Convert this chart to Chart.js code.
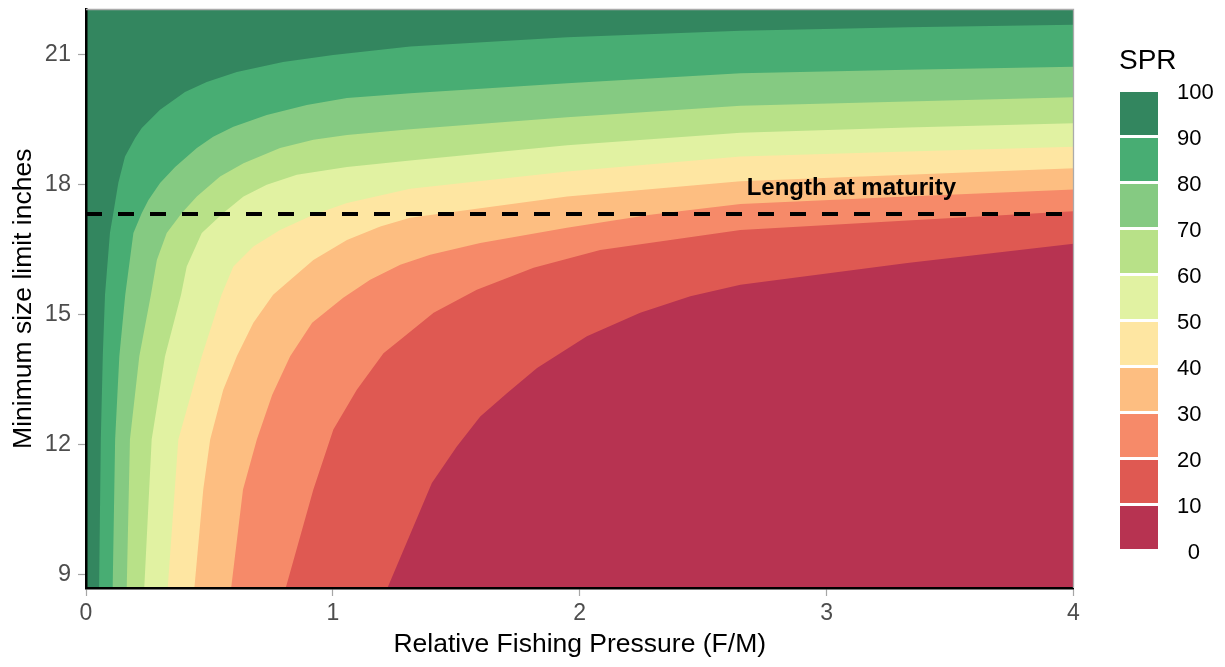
<!DOCTYPE html>
<html><head><meta charset="utf-8">
<script src="https://cdn.jsdelivr.net/npm/chart.js@4.4.1/dist/chart.umd.min.js"></script>
<style>
html,body{margin:0;padding:0;background:#fff;}
#wrap{position:relative;width:1225px;height:667px;font-family:"Liberation Sans",Arial,Helvetica,sans-serif;overflow:hidden;}
canvas{position:absolute;left:0;top:0;}
.lt{position:absolute;white-space:nowrap;line-height:1;color:#000;}
.box{position:absolute;}
</style></head><body>
<div id="wrap"><canvas id="c" width="1225" height="667"></canvas><div id="legend"></div></div>
<script>
// ---------- data ----------
const X_TICKS = [0, 1, 2, 3, 4];
const Y_TICKS = [9, 12, 15, 18, 21];
const X_MIN = 0, X_MAX = 4;
const Y_MIN = 8.7, Y_MAX = 22.03;
const SPR_BREAKS = [100, 90, 80, 70, 60, 50, 40, 30, 20, 10, 0];
const MATURITY = 17.32;
const LABEL_TEXT = 'Length at maturity';
const LABEL_POS = [3.1, 17.76];
const X_TITLE = 'Relative Fishing Pressure (F/M)';
const Y_TITLE = 'Minimum size limit inches';

// contour boundaries: F/M values and size limit values (bottom edge first)
const L10_F = [1.221, 1.401, 1.502, 1.597, 1.705, 1.827, 2.029, 2.245, 2.448, 2.651, 3.327, 4.0];
const L10_Y = [8.70, 11.12, 11.96, 12.65, 13.19, 13.77, 14.50, 15.04, 15.42, 15.69, 16.19, 16.63];
const L20_F = [0.809, 0.921, 1.002, 1.097, 1.205, 1.273, 1.408, 1.583, 1.813, 2.083, 2.651, 3.327, 4.0];
const L20_Y = [8.70, 10.97, 12.35, 13.27, 14.11, 14.42, 15.04, 15.57, 16.08, 16.49, 16.95, 17.17, 17.38];
const L30_F = [0.588, 0.636, 0.692, 0.754, 0.827, 0.916, 1.042, 1.151, 1.273, 1.394, 1.597, 1.948, 2.286, 2.651, 3.327, 4.0];
const L30_Y = [8.70, 10.97, 12.12, 13.15, 14.04, 14.81, 15.39, 15.80, 16.15, 16.38, 16.65, 17.00, 17.30, 17.55, 17.72, 17.88];
const L40_F = [0.439, 0.475, 0.503, 0.556, 0.611, 0.678, 0.758, 0.813, 0.921, 1.057, 1.192, 1.313, 1.949, 2.651, 3.327, 4.0];
const L40_Y = [8.70, 10.97, 12.12, 13.27, 14.04, 14.81, 15.46, 15.73, 16.26, 16.72, 17.03, 17.23, 17.72, 18.07, 18.22, 18.37];
const L50_F = [0.331, 0.374, 0.469, 0.549, 0.597, 0.678, 0.786, 0.921, 1.057, 1.313, 1.949, 2.651, 3.327, 4.0];
const L50_Y = [8.70, 12.12, 14.04, 15.46, 16.11, 16.57, 16.95, 17.30, 17.57, 17.90, 18.30, 18.64, 18.76, 18.87];
const L60_F = [0.236, 0.266, 0.320, 0.385, 0.408, 0.469, 0.556, 0.638, 0.732, 0.854, 1.057, 1.313, 1.949, 2.651, 3.327, 4.0];
const L60_Y = [8.70, 12.12, 14.04, 15.46, 16.11, 16.88, 17.34, 17.72, 17.99, 18.22, 18.40, 18.55, 18.90, 19.19, 19.31, 19.41];
const L70_F = [0.165, 0.178, 0.216, 0.263, 0.287, 0.327, 0.388, 0.449, 0.543, 0.638, 0.786, 0.921, 1.057, 1.313, 1.949, 2.651, 3.327, 4.0];
const L70_Y = [8.70, 12.12, 14.04, 15.46, 16.26, 16.88, 17.34, 17.72, 18.18, 18.49, 18.84, 19.03, 19.14, 19.27, 19.55, 19.81, 19.91, 20.01];
const L80_F = [0.108, 0.118, 0.135, 0.159, 0.192, 0.226, 0.253, 0.300, 0.361, 0.449, 0.515, 0.597, 0.732, 0.894, 1.057, 1.313, 1.949, 2.651, 3.327, 4.0];
const L80_Y = [8.70, 12.12, 14.04, 15.46, 16.88, 17.34, 17.64, 18.03, 18.40, 18.84, 19.10, 19.33, 19.60, 19.83, 19.99, 20.10, 20.33, 20.56, 20.64, 20.71];
const L90_F = [0.053, 0.060, 0.068, 0.077, 0.097, 0.111, 0.131, 0.158, 0.199, 0.226, 0.300, 0.401, 0.489, 0.611, 0.798, 1.001, 1.313, 1.949, 2.651, 3.327, 4.0];
const L90_Y = [8.70, 12.12, 14.04, 15.46, 16.88, 17.35, 18.04, 18.64, 19.07, 19.30, 19.72, 20.13, 20.36, 20.59, 20.82, 20.98, 21.18, 21.39, 21.54, 21.62, 21.68];

// ---------- style ----------
const FONT = '"Liberation Sans", Arial, Helvetica, sans-serif';
// bands 0-10 ... 90-100 (RdYlGn, alpha 0.8 on white)
const BAND_COLORS = ['#B73351','#DF5952','#F68A69','#FDBE81','#FEE6A2','#E1F2A2','#B8E188','#85CA82','#48AD73','#33865F'];

const BOUNDS = [[L10_F,L10_Y],[L20_F,L20_Y],[L30_F,L30_Y],[L40_F,L40_Y],[L50_F,L50_Y],
                [L60_F,L60_Y],[L70_F,L70_Y],[L80_F,L80_Y],[L90_F,L90_Y]];

const common = {pointRadius:0, pointHoverRadius:0, borderWidth:0, borderColor:'rgba(0,0,0,0)', tension:0};
const datasets = [];
datasets.push(Object.assign({}, common, {
  data:[{x:X_MIN,y:Y_MIN},{x:X_MAX,y:Y_MIN}], fill:'end', backgroundColor:BAND_COLORS[0], order:20}));
BOUNDS.forEach(([fs, ys], i) => {
  const pts = [{x:X_MIN, y:Y_MIN}].concat(fs.map((f, j) => ({x:f, y:ys[j]})));
  datasets.push(Object.assign({}, common, {data:pts, fill:'end', backgroundColor:BAND_COLORS[i+1], order:19 - i}));
});
datasets.push({data:[{x:X_MIN,y:MATURITY},{x:X_MAX,y:MATURITY}], fill:false, borderColor:'#000',
  borderWidth:4, borderDash:[16,16], pointRadius:0, tension:0, order:0});

const annot = {
  id:'annot',
  afterDatasetsDraw(chart){
    const {ctx, scales:{x, y}} = chart;
    ctx.save();
    ctx.font = 'bold 24px ' + FONT;
    ctx.fillStyle = '#000';
    ctx.textAlign = 'center';
    ctx.textBaseline = 'alphabetic';
    ctx.fillText(LABEL_TEXT, x.getPixelForValue(LABEL_POS[0]), y.getPixelForValue(LABEL_POS[1]));
    ctx.restore();
  },
  afterDraw(chart){
    const {ctx, chartArea:a} = chart;
    ctx.save();
    ctx.strokeStyle = '#ABABAB';
    ctx.lineWidth = 1.3;
    ctx.beginPath();
    ctx.moveTo(a.left, a.top); ctx.lineTo(a.right, a.top); ctx.lineTo(a.right, a.bottom);
    ctx.stroke();
    ctx.restore();
  }
};

function noPad(s){ s.paddingTop = 0; s.paddingBottom = 0; s.paddingLeft = 0; s.paddingRight = 0; }

new Chart(document.getElementById('c'), {
  type:'line',
  data:{datasets},
  plugins:[annot],
  options:{
    responsive:false, animation:false, devicePixelRatio:1,
    layout:{padding:{left:0, right:151.5, top:9.5, bottom:0}},
    plugins:{legend:{display:false}, tooltip:{enabled:false}},
    scales:{
      x:{type:'linear', min:X_MIN, max:X_MAX, position:'bottom',
        afterBuildTicks:s => { s.ticks = X_TICKS.map(v => ({value:v})); },
        afterFit:s => { s.height = 79; noPad(s); },
        ticks:{color:'#4D4D4D', font:{family:FONT, size:23}, padding:4, maxRotation:0, autoSkip:false},
        grid:{drawOnChartArea:false, drawTicks:true, tickLength:8, color:'#A6A6A6', tickWidth:1.2},
        border:{display:true, color:'#000', width:2.5, z:1},
        title:{display:true, text:X_TITLE, color:'#000', font:{family:FONT, size:26.5}, padding:{top:0, bottom:6}}
      },
      y:{type:'linear', min:Y_MIN, max:Y_MAX, position:'left',
        afterBuildTicks:s => { s.ticks = Y_TICKS.map(v => ({value:v})); },
        afterFit:s => { s.width = 86; noPad(s); },
        ticks:{color:'#4D4D4D', font:{family:FONT, size:23.5}, padding:7, autoSkip:false},
        grid:{drawOnChartArea:false, drawTicks:true, tickLength:8, color:'#A6A6A6', tickWidth:1.2},
        border:{display:true, color:'#000', width:2.5, z:1},
        title:{display:true, text:Y_TITLE, color:'#000', font:{family:FONT, size:26.5}, padding:{top:8, bottom:0}}
      }
    }
  }
});

// ---------- legend (HTML) ----------
const leg = document.getElementById('legend');
const t = document.createElement('div');
t.className = 'lt'; t.textContent = 'SPR';
t.style.cssText = 'left:1119px;top:46.3px;font-size:28px;';
leg.appendChild(t);
const PERIOD = 45.97, FIRST_TOP = 92.3;
for (let k = 0; k < 10; k++) {
  const b = document.createElement('div');
  b.className = 'box';
  const top = FIRST_TOP + k * PERIOD;
  b.style.cssText = `left:1120px;top:${top}px;width:38px;height:42.6px;background:${BAND_COLORS[9 - k]};`;
  leg.appendChild(b);
}
SPR_BREAKS.forEach((v, k) => {
  const s = document.createElement('div');
  s.className = 'lt';
  const txt = String(v);
  s.textContent = txt;
  const cy = 92.2 + k * 45.95;
  if (txt.length === 1) s.style.cssText = `right:${1225 - 1200}px;top:${cy}px;font-size:22px;transform:translateY(-50%);`;
  else s.style.cssText = `left:1177px;top:${cy}px;font-size:22px;transform:translateY(-50%);`;
  leg.appendChild(s);
});
</script>
</body></html>
